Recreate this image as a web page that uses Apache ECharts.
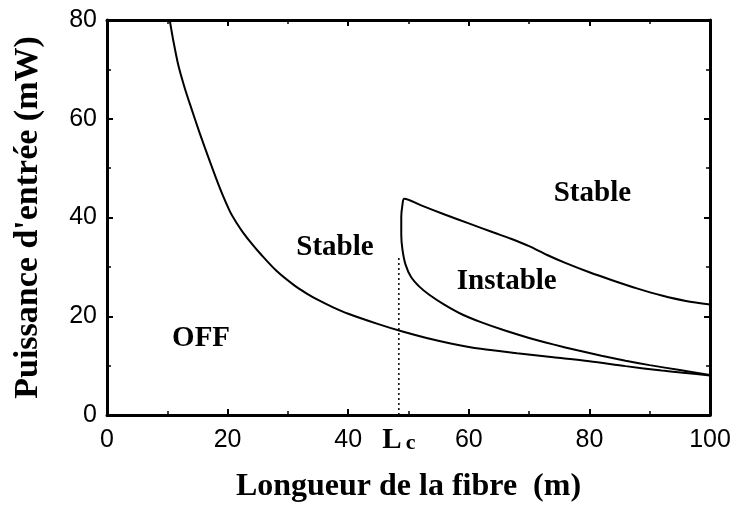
<!DOCTYPE html>
<html>
<head>
<meta charset="utf-8">
<script src="https://cdn.jsdelivr.net/npm/echarts@6/dist/echarts.min.js"></script>
<style>
  html, body { margin: 0; padding: 0; background: #fff; }
  #chart { width: 739px; height: 508px; }
</style>
</head>
<body>
<div id="chart"></div>
<script>
// frontière OFF / Stable
const offCurve = [
  [10.4, 80], [11, 75.8], [11.8, 71], [12.8, 66.6], [13.8, 62.8], [15.4, 57],
  [17.1, 51.2], [18.7, 46], [20.4, 41.2], [21.5, 38.9], [22.6, 36.9], [24, 34.7],
  [25.4, 32.7], [28.1, 29.2], [30.9, 26.4], [33, 24.7], [35, 23.3], [37.5, 21.8],
  [40, 20.5], [45, 18.4], [49, 16.9], [53, 15.6], [57, 14.5], [62, 13.4],
  [68, 12.5], [74, 11.7], [80, 10.9], [86, 9.9], [92, 9], [96, 8.5], [100, 8]
];
// zone instable (bord haut puis bord bas)
const instableCurve = [
  [100, 22.4], [96, 23.1], [92, 24.2], [88, 25.6], [84, 27.2], [80, 28.9],
  [76, 30.8], [73, 32.4], [70, 34.2], [67, 35.7], [64, 37], [60, 38.8],
  [56, 40.6], [52, 42.5], [49.3, 43.8], [49, 42.6], [48.8, 40], [48.8, 36.5],
  [49, 33.5], [49.5, 30.5], [50.4, 28], [51.8, 26], [53.5, 24.3],
  [56, 22.3], [59, 20.3], [62, 18.8], [66, 17.1], [70, 15.6], [74, 14.3],
  [78, 13.1], [82, 12], [86, 11], [90, 10.1], [95, 9.1], [100, 8.1]
];
const Lc = 48.4;
const LcTop = 32;
const xTicks = [0, 20, 40, 60, 80, 100];
const yTicks = [0, 20, 40, 60, 80];
const regionLabels = [
  [15.6, 15.5, "OFF"],
  [37.8, 34, "Stable"],
  [66.3, 27, "Instable"],
  [80.5, 44.8, "Stable"]
];

const serif = "Liberation Serif";
const chart = echarts.init(document.getElementById("chart"));

const tickAxis = {
  min: 0,
  interval: 20,
  axisLine: { show: true, onZero: false, lineStyle: { color: "#000", width: 3 } },
  axisTick: { show: true, inside: true, length: 6, lineStyle: { color: "#000", width: 2 } },
  minorTick: { show: true, splitNumber: 2, length: 4, lineStyle: { color: "#000", width: 1.5 } },
  splitLine: { show: false },
};

const tickLabel = {
  fontFamily: "Liberation Sans",
  fontSize: 25,
  color: "#000",
};

chart.setOption({
  animation: false,
  grid: { left: 107, right: 29, top: 20, bottom: 91 },
  xAxis: [
    Object.assign({}, tickAxis, {
      type: "value",
      max: 100,
      position: "bottom",
      name: "Longueur de la fibre  (m)",
      nameLocation: "middle",
      nameGap: 56,
      nameTextStyle: { fontFamily: serif, fontWeight: "bold", fontSize: 32, color: "#000" },
      axisLabel: Object.assign({}, tickLabel, {
        margin: 13,
        formatter: (v) => (xTicks.includes(v) ? String(v) : ""),
      }),
    }),
    Object.assign({}, tickAxis, {
      type: "value",
      max: 100,
      position: "top",
      axisLabel: { show: false },
    }),
  ],
  yAxis: [
    Object.assign({}, tickAxis, {
      type: "value",
      max: 80,
      position: "left",
      name: "Puissance d'entrée (mW)",
      nameLocation: "middle",
      nameGap: 62,
      nameTextStyle: { fontFamily: serif, fontWeight: "bold", fontSize: 34, color: "#000" },
      axisLabel: Object.assign({}, tickLabel, {
        margin: 10,
        formatter: (v) => (yTicks.includes(v) ? String(v) : ""),
      }),
    }),
    Object.assign({}, tickAxis, {
      type: "value",
      max: 80,
      position: "right",
      axisLabel: { show: false },
    }),
  ],
  series: [
    {
      type: "line",
      data: offCurve,
      smooth: 0.3,
      showSymbol: false,
      lineStyle: { color: "#000", width: 2 },
    },
    {
      type: "line",
      data: instableCurve,
      smooth: 0.3,
      showSymbol: false,
      lineStyle: { color: "#000", width: 2 },
    },
    {
      type: "line",
      data: [[Lc, 0], [Lc, LcTop]],
      showSymbol: false,
      lineStyle: { color: "#000", width: 1.5, type: [2, 3] },
    },
    {
      type: "scatter",
      data: regionLabels,
      symbolSize: 0,
      itemStyle: { color: "#000", opacity: 1 },
      label: {
        show: true,
        position: "inside",
        formatter: (p) => p.data[2],
        fontFamily: serif,
        fontWeight: "bold",
        fontSize: 29,
        color: "#000",
        opacity: 1,
        textBorderWidth: 0,
      },
    },
    {
      type: "scatter",
      data: [[Lc, 0]],
      symbolSize: 0,
      itemStyle: { color: "#000", opacity: 1 },
      label: {
        show: true,
        position: "bottom",
        distance: 11,
        opacity: 1,
        formatter: "{L|L}{c|c}",
        textBorderWidth: 0,
        rich: {
          L: { fontFamily: serif, fontWeight: "bold", fontSize: 29, color: "#000" },
          c: { fontFamily: serif, fontWeight: "bold", fontSize: 22, color: "#000", padding: [6, 0, 0, 4] },
        },
      },
    },
  ],
});
</script>
</body>
</html>
